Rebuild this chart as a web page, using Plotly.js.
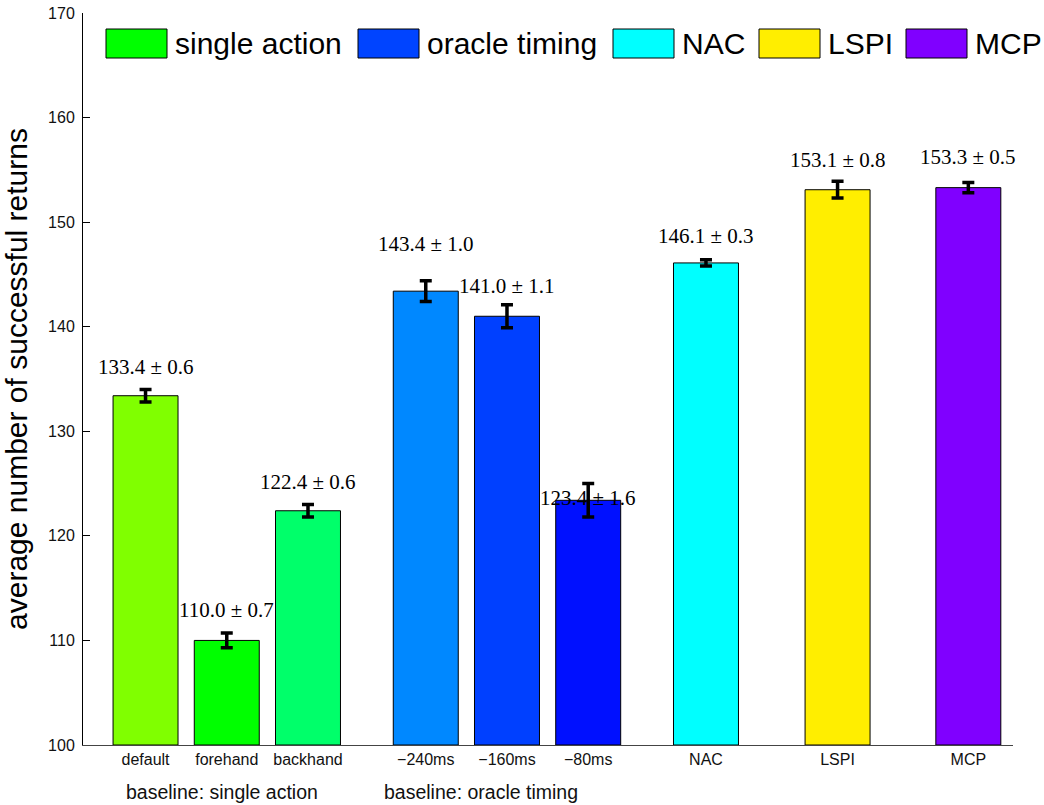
<!DOCTYPE html>
<html>
<head>
<meta charset="utf-8">
<script src="https://cdn.plot.ly/plotly-3.0.1.min.js"></script>
<style>html,body{margin:0;padding:0;background:#fff;}#chart{width:1044px;height:805px;}</style>
</head>
<body>
<div id="chart"></div>
<script>
// ---- data ----
const categories = ["default", "forehand", "backhand", "\u2212240ms", "\u2212160ms", "\u221280ms", "NAC", "LSPI", "MCP"];
const positions  = [0, 1, 2, 3.45, 4.45, 5.45, 6.9, 8.52, 10.13];
const means      = [133.4, 110.0, 122.4, 143.4, 141.0, 123.4, 146.1, 153.1, 153.3];
const errors     = [0.6, 0.7, 0.6, 1.0, 1.1, 1.6, 0.3, 0.8, 0.5];
const barColors  = ["#80ff00", "#00ff00", "#00ff6a", "#0088ff", "#0040ff", "#0010ff", "#00ffff", "#ffee00", "#8000ff"];
const legendNames  = ["single action", "oracle timing", "NAC", "LSPI", "MCP"];
const legendColors = ["#00ff00", "#0044ff", "#00ffff", "#ffee00", "#8000ff"];
const groupLabels  = ["baseline: single action", "baseline: oracle timing"];
const groupLabelX  = [0.94, 4.13];

// ---- layout helpers (pixel geometry of the plot area) ----
const M = {l: 83, r: 31, t: 13, b: 60};
const W = 1044, H = 805;
const pw = W - M.l - M.r, ph = H - M.t - M.b;
const px2paperX = p => (p - M.l) / pw;
const py2paperY = p => (H - M.b - p) / ph;
const labelShift = [22, 23, 22, 37, 19, -14, 24, 21, 25];
const legendBoxLeft = [106, 358, 613, 759, 906];

const trace = {
  type: "bar",
  x: positions,
  y: means.map(v => v - 100),   // bars rise from the baseline 100
  base: 100,
  width: 0.8,
  marker: {color: barColors, line: {color: "#000", width: 1}},
  error_y: {type: "data", array: errors, visible: true, color: "#000", thickness: 3.5, width: 6},
  showlegend: false,
  hoverinfo: "x+y"
};

const annotations = [];
means.forEach((m, i) => {
  annotations.push({
    x: positions[i], y: m + errors[i], xref: "x", yref: "y",
    text: m.toFixed(1) + " \u00b1 " + errors[i].toFixed(1),
    showarrow: false, yanchor: "middle", xanchor: "center", yshift: labelShift[i],
    font: {family: "Liberation Serif, Times New Roman, serif", size: 21, color: "#000"}
  });
});
groupLabels.forEach((g, i) => {
  annotations.push({
    x: groupLabelX[i], y: py2paperY(792), xref: "x", yref: "paper",
    text: g, showarrow: false, xanchor: "center", yanchor: "middle",
    font: {family: "Liberation Sans, Arial, sans-serif", size: 19.5, color: "#111"}
  });
});
const shapes = [];
legendNames.forEach((n, i) => {
  const x0 = legendBoxLeft[i], x1 = x0 + 61;
  shapes.push({
    type: "rect", xref: "paper", yref: "paper",
    x0: px2paperX(x0), x1: px2paperX(x1), y0: py2paperY(58), y1: py2paperY(29),
    fillcolor: legendColors[i], line: {color: "#000", width: 1}
  });
  annotations.push({
    x: px2paperX(x1 + 6), y: py2paperY(44), xref: "paper", yref: "paper",
    text: n, showarrow: false, xanchor: "left", yanchor: "middle",
    font: {family: "Liberation Sans, Arial, sans-serif", size: 30, color: "#000"}
  });
});

const layout = {
  width: W, height: H,
  margin: M,
  paper_bgcolor: "#fff", plot_bgcolor: "#fff",
  showlegend: false,
  xaxis: {
    range: [-0.77, 10.68],
    tickvals: positions, ticktext: categories,
    ticks: "", showgrid: false, zeroline: false,
    showline: true, linecolor: "#444", linewidth: 1,
    tickfont: {family: "Liberation Sans, Arial, sans-serif", size: 16, color: "#111"},
    fixedrange: true
  },
  yaxis: {
    range: [100, 170],
    tickvals: [100, 110, 120, 130, 140, 150, 160, 170],
    ticks: "inside", ticklen: 7, tickcolor: "#000",
    ticklabelstandoff: 4,
    showgrid: false, zeroline: false,
    showline: true, linecolor: "#000", linewidth: 1,
    tickfont: {family: "Liberation Sans, Arial, sans-serif", size: 16, color: "#111"},
    title: {text: "average number of successful returns", standoff: 12,
            font: {family: "Liberation Sans, Arial, sans-serif", size: 30, color: "#000"}},
    fixedrange: true
  },
  annotations: annotations,
  shapes: shapes,
  bargap: 0
};

Plotly.newPlot("chart", [trace], layout, {displayModeBar: false, staticPlot: true});
</script>
</body>
</html>
